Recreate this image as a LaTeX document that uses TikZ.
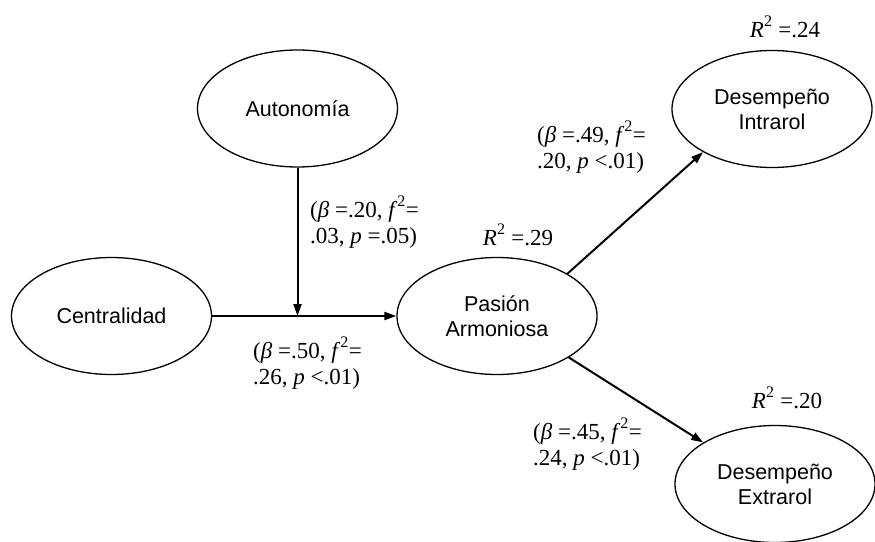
\documentclass[tikz,border=0pt]{standalone}
\usepackage{fontspec}
\setmainfont{Liberation Serif}
\newfontfamily\arialf{Liberation Sans}
\usetikzlibrary{shapes.geometric,arrows.meta}
\newcommand{\mysq}{\raisebox{0.1em}{\textsuperscript{2}}}
\begin{document}
\begin{tikzpicture}[x=1pt,y=-1pt,
  var/.style={ellipse, draw, line width=1.3pt, minimum width=200pt, minimum height=117pt,
    inner sep=0pt, font=\arialf\fontsize{21.5}{25}\selectfont, align=center},
  stat/.style={font=\fontsize{23}{26}\selectfont, align=left, inner sep=0pt},
  conn/.style={line width=2pt, -{Triangle[length=12pt,width=8pt]}}]
\useasboundingbox (0,0) rectangle (875,541);

\node[var] (au) at (297.5,108.5) {Autonomía};
\node[var] (ce) at (111.5,316) {Centralidad};
\node[var] (pa) at (497,316) {Pasión\\Armoniosa};
\node[var] (di) at (772,109) {Desempeño\\Intrarol};
\node[var] (de) at (775,484) {Desempeño\\Extrarol};

\coordinate (m) at (au.south |- ce.east);

\draw[conn] (ce.east) -- (pa.west);
\draw[conn] (au.south) -- (m);
\draw[conn] (pa.31) -- (di.212);
\draw[conn] (pa.-30) -- (de.150);

\node[stat, anchor=west] (l1) at (310,222) {(\textit{β} =.20, \textit{f}\mysq=\\.03, \textit{p} =.05)};
\node[stat, anchor=west] (l2) at (253,363) {(\textit{β} =.50, \textit{f}\mysq=\\.26, \textit{p} <.01)};
\node[stat, anchor=west] (l3) at (537,147) {(\textit{β} =.49, \textit{f}\mysq=\\.20, \textit{p} <.01)};
\node[stat, anchor=west] (l4) at (533,444) {(\textit{β} =.45, \textit{f}\mysq=\\.24, \textit{p} <.01)};

\node[stat] (r1) at (518,235) {\textit{R}\mysq\ =.29};
\node[stat] (r2) at (785,27) {\textit{R}\mysq\ =.24};
\node[stat] (r3) at (787,398) {\textit{R}\mysq\ =.20};
\end{tikzpicture}
\end{document}
